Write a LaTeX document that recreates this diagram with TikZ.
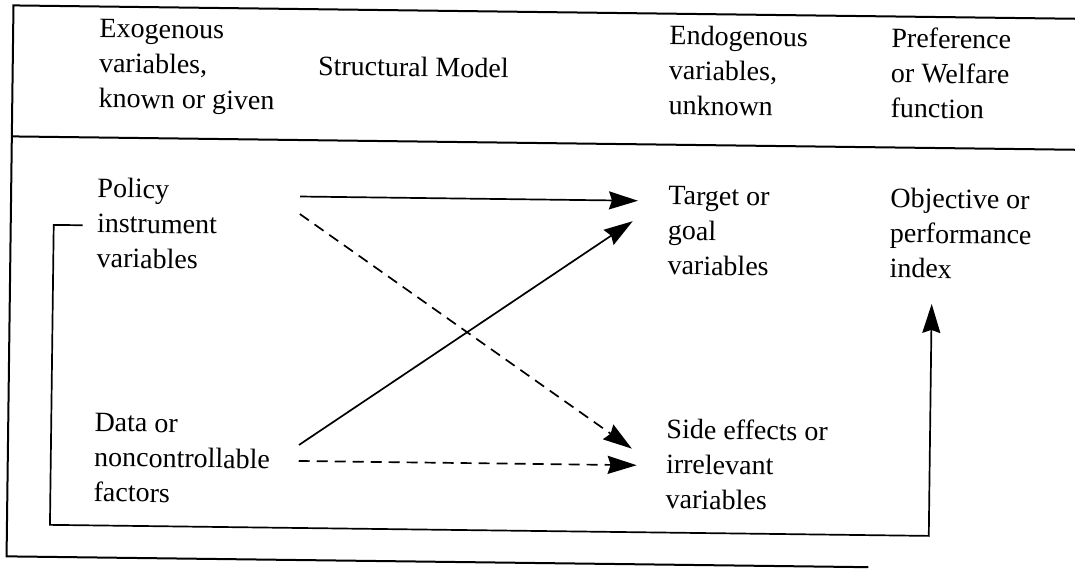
\documentclass[tikz,border=0pt]{standalone}
\usepackage{fontspec}
\setmainfont{Liberation Serif}
\usetikzlibrary{arrows.meta}

\begin{document}
\begin{tikzpicture}[x=0.5pt,y=-0.5pt,
  frame/.style={line width=1pt},
  link/.style={line width=0.85pt,-{Stealth[length=14.5pt,width=9pt,inset=1.5pt]}},
  dashedlink/.style={link,dash pattern=on 5.5pt off 3.5pt},
  label/.style={anchor=west,inner sep=0pt,align=left,
    font=\fontsize{14}{17.5}\selectfont}]
\useasboundingbox (0,0) rectangle (1075,569);
% the whole table sits at a slight tilt
\begin{scope}[rotate around={-0.72:(537,284)},transform shape]
  % table rules
  \draw[frame] (1090,12) -- (10,12) -- (10,563) -- (872,563);
  \draw[frame] (10,143) -- (1090,143);

  % column headings
  \node[label] (exo)  at (96,71)  {\strut Exogenous\\variables,\\known or given\strut};
  \node[label] (sm)   at (315,71) {\strut Structural Model\strut};
  \node[label] (endo) at (666,71) {\strut Endogenous\\variables,\\unknown\strut};
  \node[label] (pref) at (888,71) {\strut Preference\\or Welfare\\function\strut};

  % variable groups
  \node[label] (pol)  at (96,231)  {\strut Policy\\instrument\\variables\strut};
  \node[label] (dat)  at (96,465)  {\strut Data or\\noncontrollable\\factors\strut};
  \node[label] (tgt)  at (667,231) {\strut Target or\\goal\\variables\strut};
  \node[label] (side) at (668,465) {\strut Side effects or\\irrelevant\\variables\strut};
  \node[label] (obj)  at (889,231) {\strut Objective or\\performance\\index\strut};

  % arrow ends
  \coordinate (polA) at (299,199.5);
  \coordinate (polB) at (299,217);
  \coordinate (datA) at (301,448);
  \coordinate (datB) at (301,464);
  \coordinate (tgtA) at (637,199.5);
  \coordinate (tgtB) at (632,220);
  \coordinate (sideA) at (634,447.5);
  \coordinate (sideB) at (639,464);
  \coordinate (fbStart) at ([xshift=-7pt]pol.west);
  \coordinate (fbLeft) at (53,531);
  \coordinate (fbRight) at (932,531);
  \coordinate (objIn) at (932,299);

  % structural model links
  \draw[link] (polA) -- (tgtA);
  \draw[dashedlink] (polB) -- (sideA);
  \draw[link] (datA) -- (tgtB);
  \draw[dashedlink] (datB) -- (sideB);

  % instruments feed the objective
  \draw[link] (fbStart) -| (fbLeft) -- (fbRight) -- (objIn);
\end{scope}
\end{tikzpicture}
\end{document}
